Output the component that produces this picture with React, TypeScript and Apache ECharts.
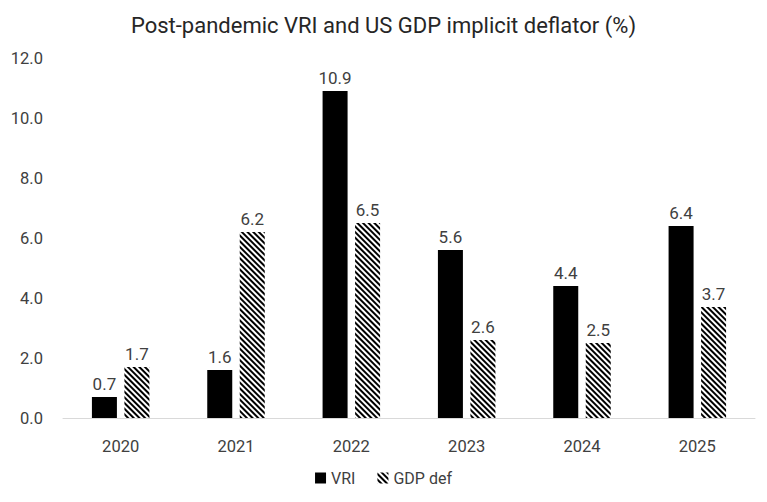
import React, { useEffect, useRef } from "react";
import * as echarts from "echarts";

const categories = ["2020", "2021", "2022", "2023", "2024", "2025"];
const vriValues = [0.7, 1.6, 10.9, 5.6, 4.4, 6.4];
const gdpDefValues = [1.7, 6.2, 6.5, 2.6, 2.5, 3.7];

const FONT = "Roboto, 'Noto Sans', sans-serif";

export default function App() {
  const ref = useRef<HTMLDivElement>(null);
  useEffect(() => {
    document.body.style.margin = "0";
    if (!ref.current) return;
    const chart = echarts.init(ref.current, undefined, { renderer: "svg" });
    const hatch = {
      symbol: "rect",
      color: "#000000",
      backgroundColor: "#ffffff",
      dashArrayX: [1, 0],
      dashArrayY: [1.6, 1.4],
      rotation: Math.PI / 4,
      symbolSize: 1,
    };
    const labelCfg = {
      show: true,
      position: "top",
      distance: 5,
      fontFamily: FONT,
      fontSize: 17,
      color: "#404040",
      formatter: (p: any) => Number(p.value).toFixed(1),
    };
    chart.setOption({
      animation: false,
      textStyle: { fontFamily: FONT },
      title: {
        text: "Post-pandemic VRI and US GDP implicit deflator (%)",
        left: "center",
        top: 9,
        textStyle: { fontFamily: FONT, fontSize: 22, fontWeight: "normal", color: "#262626" },
      },
      legend: {
        bottom: 11,
        left: "center",
        itemWidth: 11,
        itemHeight: 11,
        itemGap: 22,
        textStyle: { fontFamily: FONT, fontSize: 16, color: "#404040" },
        data: [
          { name: "VRI", icon: "rect" },
          { name: "GDP def", icon: "rect" },
        ],
      },
      grid: { left: 63, right: 12, top: 58, bottom: 84, containLabel: false },
      xAxis: {
        type: "category",
        data: categories,
        axisTick: { show: false },
        axisLine: { lineStyle: { color: "#d9d9d9" } },
        axisLabel: { fontFamily: FONT, fontSize: 16.5, color: "#404040", margin: 20 },
      },
      yAxis: {
        type: "value",
        min: 0,
        max: 12,
        interval: 2,
        splitLine: { show: false },
        axisLine: { show: false },
        axisTick: { show: false },
        axisLabel: {
          fontFamily: FONT,
          fontSize: 16.5,
          color: "#404040",
          margin: 20,
          formatter: (v: number) => v.toFixed(1),
        },
      },
      series: [
        {
          name: "VRI",
          type: "bar",
          data: vriValues,
          barWidth: 25,
          barGap: "30%",
          itemStyle: { color: "#000000" },
          label: labelCfg,
        },
        {
          name: "GDP def",
          type: "bar",
          data: gdpDefValues,
          barWidth: 25,
          itemStyle: { color: "#ffffff", decal: hatch },
          label: labelCfg,
        },
      ],
    });
    return () => chart.dispose();
  }, []);
  return <div ref={ref} style={{ width: 767, height: 502 }} />;
}
